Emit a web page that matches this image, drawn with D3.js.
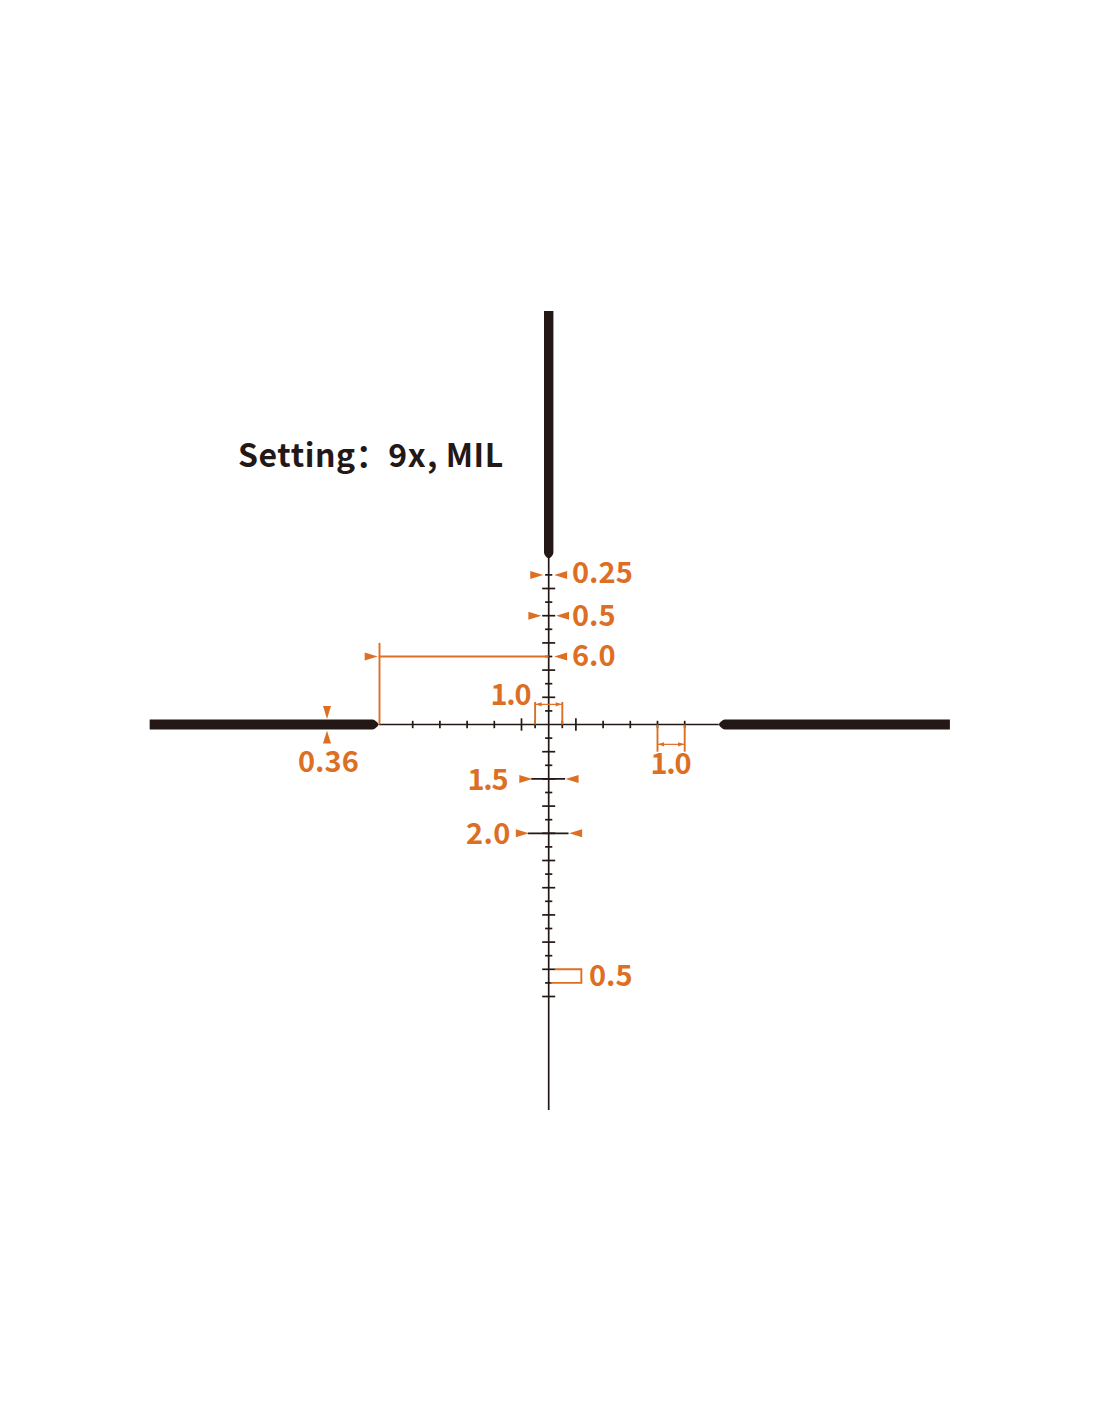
<!DOCTYPE html>
<html>
<head>
<meta charset="utf-8">
<script src="https://cdnjs.cloudflare.com/ajax/libs/d3/7.8.5/d3.min.js"></script>
<style>
  html, body { margin: 0; padding: 0; background: #fff; }
  text { font-family: "Noto Sans CJK SC", "Noto Sans", sans-serif; }
</style>
</head>
<body>
<div id="chart"></div>
<script>
// all values in mil, measured from the reticle centre (up = negative on the y scale input)
const hMajorTicks = [-5, -4, -3, -2, 2, 3, 4, 5];
const hTallTicks = [-1, 1];
const hHalfTicks = [-0.5, 0.5];
const vLongTicks = [-5, -4, -3, -2, -1, 1, 2, 3, 4, 5, 6, 7, 8, 9, 10];
const vShortTicks = [-5.5, -4.5, -3.5, -2.5, -1.5, -0.5, 0.5, 1.5, 2.5, 3.5, 4.5, 5.5, 6.5, 7.5, 8.5, 9.5];
const vWideBars = [{ at: 2, width: 1.25 }, { at: 4, width: 1.5 }];
const thinExtent = [-6.25, 14.17];
const postLeft = [-14.67, -6.25];
const postRight = [6.25, 14.75];
const postTop = [-15.2, -6.1];
const labelText = ["0.25", "0.5", "6.0", "1.0", "0.36", "1.5", "2.0", "1.0", "0.5"];
const title = "Setting：9x, MIL";

const black = "#231815";
const orange = "#dd6f24";

const svg = d3
  .select("#chart")
  .append("svg")
  .attr("width", 1100)
  .attr("height", 1422)
  .style("display", "block");

const unit = 27.2;
const cx = 548.7;
const cy = 724.5;
const x = d3.scaleLinear().domain([0, 1]).range([cx, cx + unit]);
const y = d3.scaleLinear().domain([0, 1]).range([cy, cy + unit]);

const thin = svg.append("g").attr("stroke", black).attr("stroke-width", 1.7);

function hLine(g, x1, x2, yy) {
  g.append("line").attr("x1", x1).attr("x2", x2).attr("y1", yy).attr("y2", yy);
}
function vLine(g, xx, y1, y2) {
  g.append("line").attr("x1", xx).attr("x2", xx).attr("y1", y1).attr("y2", y2);
}

// fine crosshair
hLine(thin, x(thinExtent[0]), x(-thinExtent[0]), cy);
vLine(thin, cx, y(thinExtent[0]), y(thinExtent[1]));

// horizontal ticks
hMajorTicks.forEach(d => vLine(thin, x(d), cy - 3.7, cy + 3.7));
hTallTicks.forEach(d => vLine(thin, x(d), cy - 6.2, cy + 6.2));
hHalfTicks.forEach(d => vLine(thin, x(d), cy - 3.7, cy + 3.7));

// vertical ticks
vLongTicks.forEach(d => hLine(thin, cx - 6.5, cx + 6.5, y(d)));
vShortTicks.forEach(d => hLine(thin, cx - 3.6, cx + 3.6, y(d)));
vWideBars.forEach(d => hLine(thin, x(-d.width / 2 - 0.02), x(d.width / 2 - 0.02), y(d.at)));

// thick posts, rounded and tapered toward the centre
function postH(from, to) {
  const p = d3.path();
  const half = 5;
  const dir = Math.sign(to - from);
  p.moveTo(from, cy - half);
  p.lineTo(to - dir * 6, cy - half);
  p.quadraticCurveTo(to - dir * 2.5, cy - 4.2, to, cy);
  p.quadraticCurveTo(to - dir * 2.5, cy + 4.2, to - dir * 6, cy + half);
  p.lineTo(from, cy + half);
  p.closePath();
  svg.append("path").attr("d", p.toString()).attr("fill", black);
}
postH(x(postLeft[0]), x(postLeft[1]));
postH(x(postRight[1]), x(postRight[0]));

const pv = d3.path();
pv.moveTo(cx - 4.7, y(postTop[0]));
pv.lineTo(cx + 4.7, y(postTop[0]));
pv.lineTo(cx + 4.7, y(postTop[1]) - 6);
pv.quadraticCurveTo(cx + 4.2, y(postTop[1]) - 2, cx, y(postTop[1]));
pv.quadraticCurveTo(cx - 4.2, y(postTop[1]) - 2, cx - 4.7, y(postTop[1]) - 6);
pv.closePath();
svg.append("path").attr("d", pv.toString()).attr("fill", black);

// orange annotation
const ann = svg.append("g").attr("stroke", orange).attr("stroke-width", 1.9).attr("fill", "none");

function arrow(tipX, tipY, dir, len = 13, half = 4) {
  let pts;
  if (dir === "right") pts = [[tipX, tipY], [tipX - len, tipY - half], [tipX - len, tipY + half]];
  if (dir === "left") pts = [[tipX, tipY], [tipX + len, tipY - half], [tipX + len, tipY + half]];
  if (dir === "down") pts = [[tipX, tipY], [tipX - half, tipY - len], [tipX + half, tipY - len]];
  if (dir === "up") pts = [[tipX, tipY], [tipX - half, tipY + len], [tipX + half, tipY + len]];
  svg.append("path").attr("d", d3.line()(pts) + "Z").attr("fill", orange);
}

// 0.25 and 0.5 tick callouts
arrow(x(-0.2), y(-5.5), "right");
arrow(x(0.2), y(-5.5), "left");
arrow(x(-0.27), y(-4), "right");
arrow(x(0.27), y(-4), "left");

// 6.0 distance to the post
hLine(ann, x(postLeft[1]), cx, y(-2.5));
vLine(ann, x(postLeft[1]) + 0.8, y(-3), cy);
arrow(x(postLeft[1]) - 1, y(-2.5), "right");
arrow(x(0.2), y(-2.5), "left");

// 1.0 span over the centre
vLine(ann, x(-0.5), y(-0.83), cy);
vLine(ann, x(0.5), y(-0.83), cy);
ann.append("line").attr("stroke-width", 1.2)
  .attr("x1", x(-0.5)).attr("x2", x(0.5)).attr("y1", y(-0.74)).attr("y2", y(-0.74));
arrow(x(-0.48), y(-0.74), "left", 6, 2.2);
arrow(x(0.48), y(-0.74), "right", 6, 2.2);

// 1.0 span on the right arm
vLine(ann, x(4), cy, y(1));
vLine(ann, x(5), cy, y(1));
ann.append("line").attr("stroke-width", 1.2)
  .attr("x1", x(4)).attr("x2", x(5)).attr("y1", y(0.73)).attr("y2", y(0.73));
arrow(x(4.02), y(0.73), "left", 6, 2.2);
arrow(x(4.98), y(0.73), "right", 6, 2.2);

// 0.36 post thickness
arrow(327, cy - 5.5, "down");
arrow(327, cy + 6, "up");

// wide bar callouts
arrow(x(-0.62) + 0.5, y(2), "right");
arrow(x(0.62), y(2), "left");
arrow(x(-0.75) + 0.5, y(4), "right");
arrow(x(0.75), y(4), "left");

// 0.5 box on the lower stem
ann.append("path").attr("d", d3.line()([
  [cx + 6, y(9)], [x(1.2), y(9)], [x(1.2), y(9.5)], [cx + 2, y(9.5)]
]));

// labels
const labelPos = [
  [572, 583], [572, 626], [572, 666], [490.5, 705], [298, 772],
  [467.5, 789.5], [466, 844], [650.5, 773.5], [589, 985.5]
];
const labelSpacing = [0, 0, 0, -1.3, 0, -1.3, 0.3, -1.3, 0];
svg.append("g")
  .selectAll("text")
  .data(labelText)
  .join("text")
  .attr("x", (d, i) => labelPos[i][0])
  .attr("y", (d, i) => labelPos[i][1])
  .attr("fill", orange)
  .attr("font-size", 29)
  .attr("font-weight", 700)
  .attr("letter-spacing", (d, i) => labelSpacing[i])
  .text(d => d);

svg.append("text")
  .attr("x", 238)
  .attr("y", 467)
  .attr("fill", black)
  .attr("font-size", 32)
  .attr("font-weight", 700)
  .attr("letter-spacing", 0.58)
  .text(title);
</script>
</body>
</html>
